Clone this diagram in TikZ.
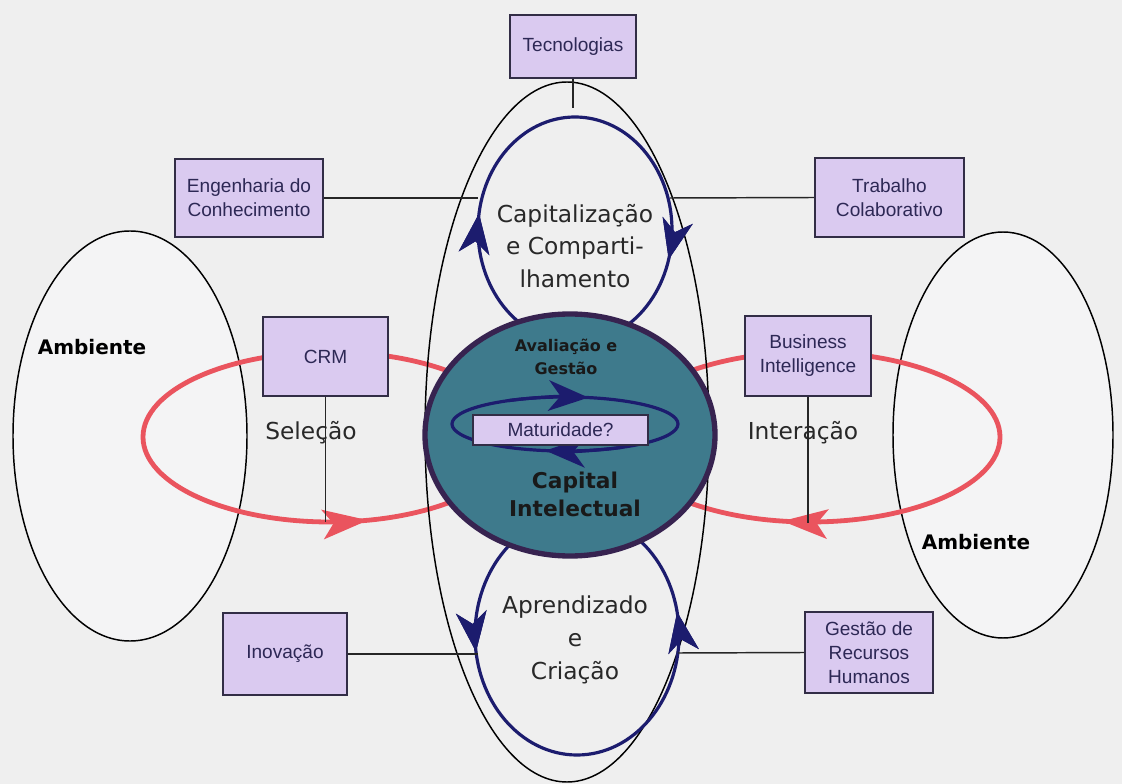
\documentclass[tikz,border=0pt]{standalone}
\usepackage{fontspec}
\setmainfont{Liberation Sans}
\newfontfamily\comic{DejaVu Sans}
\usetikzlibrary{arrows.meta,decorations.markings}

\definecolor{bg}{RGB}{239,239,239}
\definecolor{amb}{RGB}{244,244,245}
\definecolor{boxfill}{RGB}{218,202,240}
\definecolor{boxline}{RGB}{50,45,70}
\definecolor{boxtext}{RGB}{45,40,85}
\definecolor{loopblue}{RGB}{28,28,110}
\definecolor{redloop}{RGB}{234,84,94}
\definecolor{core}{RGB}{62,122,140}
\definecolor{rim}{RGB}{55,35,80}
\definecolor{inktext}{RGB}{40,40,40}

\tikzset{
  fbox/.style={draw=boxline, line width=1.5pt, fill=boxfill, text=boxtext,
    align=center, inner sep=0pt,
    font=\fontsize{14.3pt}{18pt}\selectfont},
  link/.style={draw=black!85, line width=1.1pt},
  navytip/.style={-{Stealth[length=30pt,width=23pt,inset=9pt]}},
  navyhead/.style={decoration={markings,
    mark=at position #1 with {\arrow{Stealth[length=30pt,width=23pt,inset=9pt]}}},
    postaction={decorate}},
  redhead/.style={decoration={markings,
    mark=at position #1 with {\arrow{Stealth[length=34pt,width=22pt,inset=8pt]}}},
    postaction={decorate}},
  bluecycle/.style={draw=loopblue, fill=loopblue, line width=2.4pt},
  redcycle/.style={draw=redloop, fill=redloop, line width=3.6pt},
  loopword/.style={text=inktext, align=center,
    font=\comic\fontsize{17.5pt}{24.5pt}\selectfont},
  envword/.style={text=black, font=\comic\bfseries\fontsize{15pt}{18pt}\selectfont}
}

\begin{document}
\begin{tikzpicture}[x=0.75pt,y=-0.75pt]
  % canvas
  \fill[bg] (0,0) rectangle (1122,784);
  \useasboundingbox (0,0) rectangle (1122,784);

  % environment ellipses
  \draw[line width=1.1pt, fill=amb] (130,436) ellipse [x radius=117, y radius=205];
  \draw[line width=1.1pt, fill=amb] (1003,435) ellipse [x radius=110, y radius=203];
  \node[envword] (ambL) at (92,347) {Ambiente};
  \node[envword] (ambR) at (976,542) {Ambiente};

  % red selection / interaction cycles
  \path[redcycle, fill=none, redhead=0.793]
    (517,437) arc [start angle=0, end angle=-360, x radius=187, y radius=85];
  \path[redcycle, fill=none, redhead=0.281]
    (1000,437) arc [start angle=0, end angle=360, x radius=190, y radius=85];

  % outer ellipse
  \draw[line width=1.1pt] (567,432) ellipse [x radius=142, y radius=350];

  % blue cycles above and below the core
  \path[bluecycle, fill=none, navyhead=0.045, navyhead=0.525]
    (672,230) arc [start angle=0, end angle=360, x radius=97, y radius=113];
  \path[bluecycle, fill=none, navyhead=0.033, navyhead=0.524]
    (679,635) arc [start angle=0, end angle=-360, x radius=102, y radius=120];

  % core
  \draw[rim, line width=4pt, fill=core] (570,435) ellipse [x radius=145, y radius=121];
  \node[text=black!90, align=center,
        font=\comic\bfseries\fontsize{12pt}{17pt}\selectfont] (aval) at (566,357)
        {Avaliação e\\Gestão};
  \node[text=black!90, align=center,
        font=\comic\bfseries\fontsize{16.3pt}{21pt}\selectfont] (capint) at (575,494)
        {Capital\\Intelectual};

  % maturity cycle inside the core
  \draw[bluecycle, fill=none] (565,424) ellipse [x radius=113, y radius=27];
  \draw[bluecycle, fill=none, navytip]
    (565,424) ++(240:113 and 27) arc [start angle=240, end angle=282, x radius=113, y radius=27];
  \draw[bluecycle, fill=none, navytip]
    (565,424) ++(60:113 and 27) arc [start angle=60, end angle=100, x radius=113, y radius=27];
  \node[fbox, minimum width=131pt, minimum height=22.5pt] (mat) at (560.5,430) {Maturidade?};

  % cycle labels
  \node[loopword] (cap) at (575,246) {Capitalização\\e Comparti-\\lhamento};
  \node[loopword] (apr) at (575,640) {Aprendizado\\e\\Criação};
  \node[loopword] (sel) at (311,433) {Seleção};
  \node[loopword] (inter) at (803,433) {Interação};

  % boxes
  \node[fbox, minimum width=94.5pt, minimum height=47pt] (tec) at (573,46.5) {Tecnologias};
  \node[fbox, minimum width=111pt, minimum height=58.5pt] (eng) at (249,198) {Engenharia do\\Conhecimento};
  \node[fbox, minimum width=112pt, minimum height=59pt] (trab) at (889.5,197.5) {Trabalho\\Colaborativo};
  \node[fbox, minimum width=94pt, minimum height=59pt] (crm) at (325.5,356.5) {CRM};
  \node[fbox, minimum width=94.5pt, minimum height=60pt] (bi) at (808,356) {Business\\Intelligence};
  \node[fbox, minimum width=93pt, minimum height=61.5pt] (inov) at (285,654) {Inovação};
  \node[fbox, minimum width=96pt, minimum height=61pt] (grh) at (869,652.5) {Gestão de\\Recursos\\Humanos};

  % connector ends on the cycles
  \coordinate (tecEnd) at (573,108);
  \coordinate (engEnd) at (478,198);
  \coordinate (trabEnd) at (670,198);
  \coordinate (crmEnd) at (325.5,522);
  \coordinate (biEnd) at (808,523);
  \coordinate (inovEnd) at (478,654);
  \coordinate (grhEnd) at (678,653);

  % connectors
  \draw[link] (tec.south) -- (tecEnd);
  \draw[link] (eng.east) -- (engEnd);
  \draw[link] (trab.west) -- (trabEnd);
  \draw[link] (crm.south) -- (crmEnd);
  \draw[link] (bi.south) -- (biEnd);
  \draw[link] (inov.east) -- (inovEnd);
  \draw[link] (grh.west) -- (grhEnd);
\end{tikzpicture}
\end{document}
